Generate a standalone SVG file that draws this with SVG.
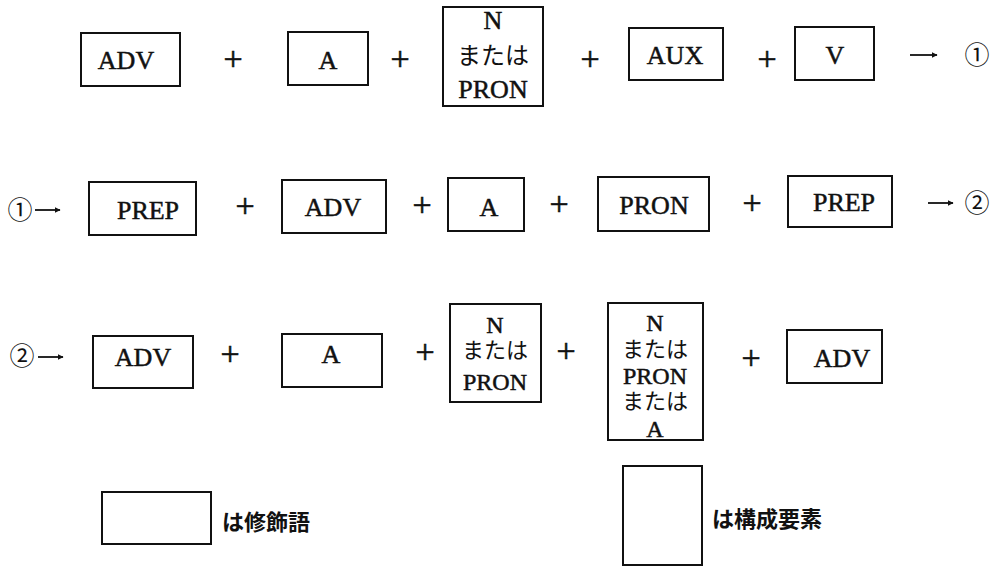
<svg xmlns="http://www.w3.org/2000/svg" width="995" height="566" viewBox="0 0 995 566">
<style>
rect.b{fill:#fff;stroke:#111;stroke-width:2}
.t{font-family:"Liberation Serif","Noto Sans CJK JP",serif;font-size:26px;fill:#111;stroke:#111;stroke-width:0.5;text-anchor:middle}
.t3{font-family:"Liberation Serif","Noto Sans CJK JP",serif;font-size:24px;fill:#111;stroke:#111;stroke-width:0.5;text-anchor:middle}
.j{font-family:"Liberation Serif","Noto Sans CJK JP",sans-serif;font-size:24px;fill:#111;text-anchor:middle}
.j3{font-family:"Liberation Serif","Noto Sans CJK JP",sans-serif;font-size:22px;fill:#111;text-anchor:middle}
.p{font-family:"Liberation Serif",serif;font-size:34px;fill:#111;stroke:#111;stroke-width:0.6;text-anchor:middle}
.c{font-family:"Noto Sans CJK JP",sans-serif;font-size:25px;fill:#111;text-anchor:middle}
.lg{font-family:"Noto Sans CJK JP",sans-serif;font-size:22px;font-weight:bold;fill:#111}
.ar{stroke:#111;stroke-width:1.8;fill:none;marker-end:url(#ah)}
</style>
<defs>
<marker id="ah" viewBox="0 0 10 10" refX="9" refY="5" markerWidth="6" markerHeight="6" orient="auto" markerUnits="userSpaceOnUse">
<path d="M0,0 L10,5 L0,10 z" fill="#111"/>
</marker>
</defs>

<!-- Row 1 -->
<g id="r1-adv"><rect class="b" x="81" y="33" width="99" height="53"/><text class="t" x="126" y="69">ADV</text></g>
<g id="r1-a"><rect class="b" x="288" y="32" width="80" height="53"/><text class="t" x="328" y="69">A</text></g>
<g id="r1-npron"><rect class="b" x="443" y="7" width="100" height="99"/><text class="t" x="493" y="29">N</text><text class="j" x="493" y="64">または</text><text class="t" x="493" y="98">PRON</text></g>
<g id="r1-aux"><rect class="b" x="629" y="28" width="94" height="52"/><text class="t" x="675" y="64">AUX</text></g>
<g id="r1-v"><rect class="b" x="795" y="27" width="79" height="53"/><text class="t" x="835" y="64">V</text></g>
<g id="r1-end"><text class="c" x="977" y="64">①</text></g>

<!-- Row 2 -->
<g id="r2-start"><text class="c" x="20" y="219">①</text></g>
<g id="r2-prep"><rect class="b" x="89" y="182" width="107" height="53"/><text class="t" x="148" y="219">PREP</text></g>
<g id="r2-adv"><rect class="b" x="282" y="180" width="104" height="53"/><text class="t" x="333" y="216">ADV</text></g>
<g id="r2-a"><rect class="b" x="448" y="178" width="76" height="53"/><text class="t" x="489" y="216">A</text></g>
<g id="r2-pron"><rect class="b" x="598" y="177" width="111" height="54"/><text class="t" x="654" y="214">PRON</text></g>
<g id="r2-prep2"><rect class="b" x="788" y="176" width="104" height="51"/><text class="t" x="844" y="211">PREP</text></g>
<g id="r2-end"><text class="c" x="977" y="212">②</text></g>

<!-- Row 3 -->
<g id="r3-start"><text class="c" x="22" y="365">②</text></g>
<g id="r3-adv"><rect class="b" x="93" y="336" width="100" height="52"/><text class="t" x="143" y="366">ADV</text></g>
<g id="r3-a"><rect class="b" x="282" y="334" width="100" height="53"/><text class="t" x="331" y="363">A</text></g>
<g id="r3-npron"><rect class="b" x="450" y="304" width="91" height="98"/><text class="t3" x="495" y="333">N</text><text class="j3" x="495" y="358">または</text><text class="t3" x="495" y="390">PRON</text></g>
<g id="r3-npron-a"><rect class="b" x="608" y="303" width="95" height="137"/><text class="t3" x="655" y="331">N</text><text class="j3" x="655" y="357">または</text><text class="t3" x="655" y="384">PRON</text><text class="j3" x="655" y="409">または</text><text class="t3" x="655" y="437">A</text></g>
<g id="r3-adv2"><rect class="b" x="787" y="330" width="95" height="53"/><text class="t" x="842" y="367">ADV</text></g>

<!-- Legend -->
<g id="legend-mod"><rect class="b" x="102" y="492" width="109" height="52"/><text class="lg" x="222" y="530">は修飾語</text></g>
<g id="legend-const"><rect class="b" x="623" y="466" width="79" height="99"/><text class="lg" x="712" y="527">は構成要素</text></g>

<g id="connectors">
<text class="p" x="233" y="70">+</text>
<text class="p" x="400" y="70">+</text>
<text class="p" x="590" y="70">+</text>
<text class="p" x="767" y="70">+</text>
<line class="ar" x1="910" y1="55" x2="937" y2="55"/>
<line class="ar" x1="35" y1="210" x2="60" y2="210"/>
<text class="p" x="245" y="217">+</text>
<text class="p" x="422" y="216">+</text>
<text class="p" x="559" y="215">+</text>
<text class="p" x="752" y="214">+</text>
<line class="ar" x1="928" y1="203" x2="953" y2="203"/>
<line class="ar" x1="38" y1="357" x2="63" y2="357"/>
<text class="p" x="230" y="365">+</text>
<text class="p" x="425" y="363">+</text>
<text class="p" x="566" y="362">+</text>
<text class="p" x="751" y="369">+</text>
</g>
</svg>
